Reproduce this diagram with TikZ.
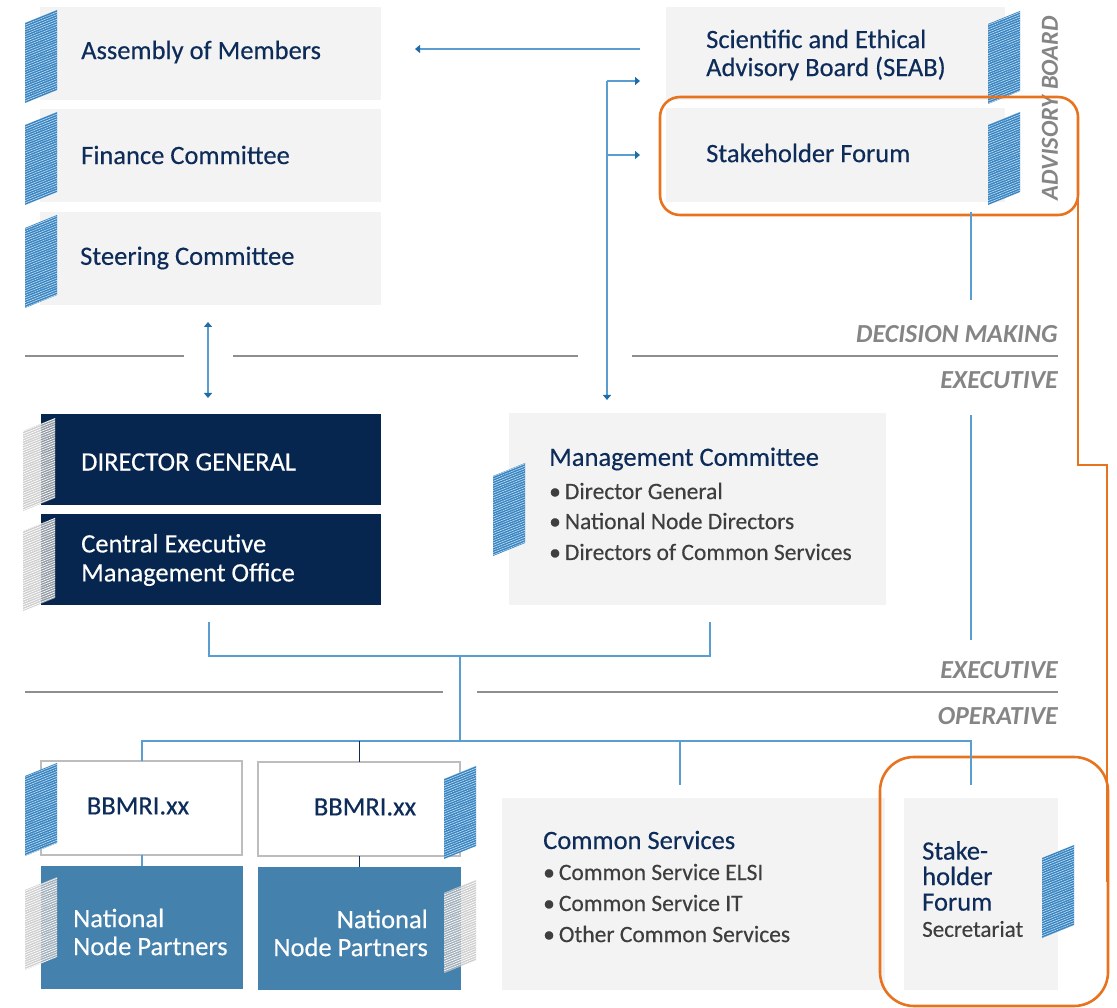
\documentclass[tikz,border=0pt]{standalone}
\usepackage{fontspec}
\setmainfont{Carlito}
\newfontfamily\mfont{Carlito}[FakeBold=0.35]
\definecolor{boxgray}{HTML}{F3F3F3}
\usetikzlibrary{arrows.meta,patterns.meta}
\definecolor{navy}{HTML}{0E2C59}
\definecolor{darkbox}{HTML}{06264F}
\definecolor{nodeblue}{HTML}{4481AD}
\definecolor{connblue}{HTML}{5A9ED1}
\definecolor{arrblue}{HTML}{1F6DA6}
\definecolor{labgray}{HTML}{858585}
\definecolor{divgray}{HTML}{8E8E8E}
\definecolor{hlorange}{HTML}{E8731E}
\definecolor{stripeblue}{HTML}{3483C2}
\definecolor{stripegray}{HTML}{BDBDBD}
\definecolor{bulgray}{HTML}{3E3E3E}
\definecolor{bordergray}{HTML}{BDBDBD}
\newcommand\stripeB[2]{%
  \fill[stripeblue] (#1,{#2+13}) -- ({#1+32},#2) -- ({#1+32},{#2+80}) -- (#1,{#2+93}) -- cycle;
  \fill[pattern={Lines[angle=22,distance=2.2pt,line width=0.6pt]}, pattern color=white!75!stripeblue]
    (#1,{#2+13}) -- ({#1+32},#2) -- ({#1+32},{#2+80}) -- (#1,{#2+93}) -- cycle;}
\newcommand\stripeG[2]{%
  \fill[stripegray, fill opacity=0.75] (#1,{#2+13}) -- ({#1+32},#2) -- ({#1+32},{#2+80}) -- (#1,{#2+93}) -- cycle;
  \fill[pattern={Lines[angle=22,distance=2.2pt,line width=0.7pt]}, pattern color=white]
    (#1,{#2+13}) -- ({#1+32},#2) -- ({#1+32},{#2+80}) -- (#1,{#2+93}) -- cycle;}
\begin{document}
\begin{tikzpicture}[x=1pt,y=-1pt,
  base/.style={inner sep=0pt, outer sep=0pt, anchor=north west},
  gbox/.style={base, fill=boxgray},
  dbox/.style={base, fill=darkbox},
  wbox/.style={base, fill=white, draw=bordergray, line width=1.3pt},
  nbox/.style={base, fill=nodeblue},
  ttl/.style={font=\mfont\fontsize{26.5}{28}\selectfont, text=navy, inner sep=0pt, align=left},
  wtxt/.style={font=\mfont\fontsize{26.5}{29}\selectfont, text=white, inner sep=0pt},
  bul/.style={font=\mfont\fontsize{23.5}{28}\selectfont, text=bulgray, inner sep=0pt, anchor=west},
  lab/.style={font=\fontsize{26}{28}\selectfont\bfseries\itshape, text=labgray, inner sep=0pt},
  divider/.style={draw=divgray, line width=2.4pt},
  conn/.style={draw=connblue, line width=1.4pt},
  arr/.style={-{Triangle[width=8pt,length=5pt,color=arrblue]}},
  darr/.style={{Triangle[width=8pt,length=5pt,color=arrblue]}-{Triangle[width=8pt,length=5pt,color=arrblue]}},
  hl/.style={base, draw=hlorange, line width=2.6pt},
  hlline/.style={draw=hlorange, line width=1.5pt}
]
\useasboundingbox (0,0) rectangle (1117,1008);

% ---------- top-left boxes
\node[gbox, minimum width=341, minimum height=93] (am) at (40,7) {};
\node[gbox, minimum width=341, minimum height=93] (fc) at (40,109) {};
\node[gbox, minimum width=341, minimum height=93] (sc) at (40,212) {};
\node[ttl, anchor=west] at (81,52) {Assembly of Members};
\node[ttl, anchor=west] at (81,155) {Finance Committee};
\node[ttl, anchor=west] at (80,258) {Steering Committee};
\stripeB{25}{10}
\stripeB{25}{112}
\stripeB{25}{215}

% ---------- advisory board
\node[gbox, minimum width=339, minimum height=93] (seab) at (666,7) {};
\node[gbox, minimum width=339, minimum height=94] (sf) at (666,108) {};
\node[ttl, anchor=west] at (706,55) {Scientific and Ethical\\Advisory Board (SEAB)};
\node[ttl, anchor=west] at (706,153) {Stakeholder Forum};
\stripeB{988}{11}
\stripeB{988}{112}
\node[lab, rotate=90, font=\fontsize{24.5}{28}\selectfont\bfseries\itshape] at (1050,108) {ADVISORY BOARD};
\node[hl, rounded corners=20pt, minimum width=418, minimum height=118] (hl1) at (660,97) {};

% ---------- dividers and labels
\draw[divider] (25,356) -- (184,356);
\draw[divider] (233,356) -- (578,356);
\draw[divider] (632,356) -- (1058,356);
\draw[divider] (25,692) -- (443,692);
\draw[divider] (477,692) -- (1058,692);
\node[lab, anchor=east] at (1058,334) {DECISION MAKING};
\node[lab, anchor=east] at (1058,380) {EXECUTIVE};
\node[lab, anchor=east] at (1058,670) {EXECUTIVE};
\node[lab, anchor=east] at (1058,716) {OPERATIVE};

% ---------- executive
\node[dbox, minimum width=340, minimum height=91] (dg) at (41,414) {};
\node[dbox, minimum width=340, minimum height=91] (cemo) at (41,514) {};
\node[wtxt, anchor=west] at (81,462) {DIRECTOR GENERAL};
\node[wtxt, anchor=west, align=left] at (81,560) {Central Executive\\Management Office};
\stripeG{23}{418}
\stripeG{23}{518}

\node[gbox, minimum width=377, minimum height=192] (mc) at (509,413) {};
\node[ttl, anchor=west] at (549,459) {Management Committee};
\node[bul] at (549,491) {\textbullet\hspace{4pt}Director General};
\node[bul] at (549,521) {\textbullet\hspace{4pt}National Node Directors};
\node[bul] at (549,552) {\textbullet\hspace{4pt}Directors of Common Services};
\stripeB{493}{463}

% ---------- operative
\node[wbox, minimum width=201, minimum height=94] (bb1) at (41,761) {};
\node[wbox, minimum width=202, minimum height=94] (bb2) at (258,762) {};
\node[ttl, text=navy] at (138,806) {BBMRI.xx};
\node[ttl, text=navy] at (365,807) {BBMRI.xx};
\node[nbox, minimum width=202, minimum height=123] (nn1) at (41,866) {};
\node[nbox, minimum width=203, minimum height=123] (nn2) at (258,867) {};
\node[wtxt, anchor=west, align=left, font=\mfont\fontsize{26.5}{28}\selectfont] at (73,932) {National\\Node Partners};
\node[wtxt, anchor=east, align=right, font=\mfont\fontsize{26.5}{28}\selectfont] at (428,933) {National\\Node Partners};
\stripeB{25}{763}
\stripeB{444}{766}
\stripeG{25}{877}
\stripeG{444}{880}

\node[gbox, minimum width=383, minimum height=192] (cs) at (502,798) {};
\node[gbox, minimum width=154, minimum height=192] (sfs) at (904,798) {};
\node[ttl, anchor=west] at (543,840) {Common Services};
\node[bul] at (543,872) {\textbullet\hspace{4pt}Common Service ELSI};
\node[bul] at (543,903) {\textbullet\hspace{4pt}Common Service IT};
\node[bul] at (543,934) {\textbullet\hspace{4pt}Other Common Services};
\node[ttl, anchor=west, font=\mfont\fontsize{26.5}{25.5}\selectfont] at (922,876) {Stake-\\holder\\Forum};
\node[bul, font=\mfont\fontsize{23}{28}\selectfont] at (922,929) {Secretariat};
\stripeB{1042}{845}
\node[hl, rounded corners=34pt, minimum width=228, minimum height=249] (hl2) at (880,757) {};

% ---------- connectors
\coordinate (s1) at (640,49);
\coordinate (s2) at (415,49);
\draw[conn,arr] (s1) -- (s2);
\coordinate (v0) at (607,81);
\coordinate (v1) at (607,155);
\coordinate (v2) at (607,400);
\draw[conn,arr] (v0) -- (640,81);
\draw[conn,arr] (v1) -- (640,155);
\draw[conn,arr] (v0) -- (v2);
\draw[conn,darr] (208,322) -- (208,398);
\draw[conn] (971,212) -- (971,300);
\draw[conn] (971,415) -- (971,640);
\coordinate (j1) at (209,622);
\coordinate (j2) at (710,622);
\coordinate (jm) at (460,656);
\draw[conn] (j1) |- (jm) -| (j2);
\coordinate (bus) at (460,741);
\draw[conn] (jm) -- (bus);
\draw[conn] (bb1.north -| 142,0) |- (bus) -| (971,785);
\draw[draw=navy, line width=1pt] (359,741) -- (bb2.north -| 359,0);
\draw[conn] (680,741) -- (680,785);
\draw[conn] (bb1.south -| 142,0) -- (nn1.north -| 142,0);
\draw[draw=navy, line width=1pt] (bb2.south -| 359,0) -- (nn2.north -| 359,0);

% ---------- orange link
\coordinate (o1) at (1078,465);
\coordinate (o2) at (1107,465);
\draw[hlline] (hl1.east) -- (o1) -- (o2) -- (hl2.east -| o2);
\end{tikzpicture}
\end{document}
